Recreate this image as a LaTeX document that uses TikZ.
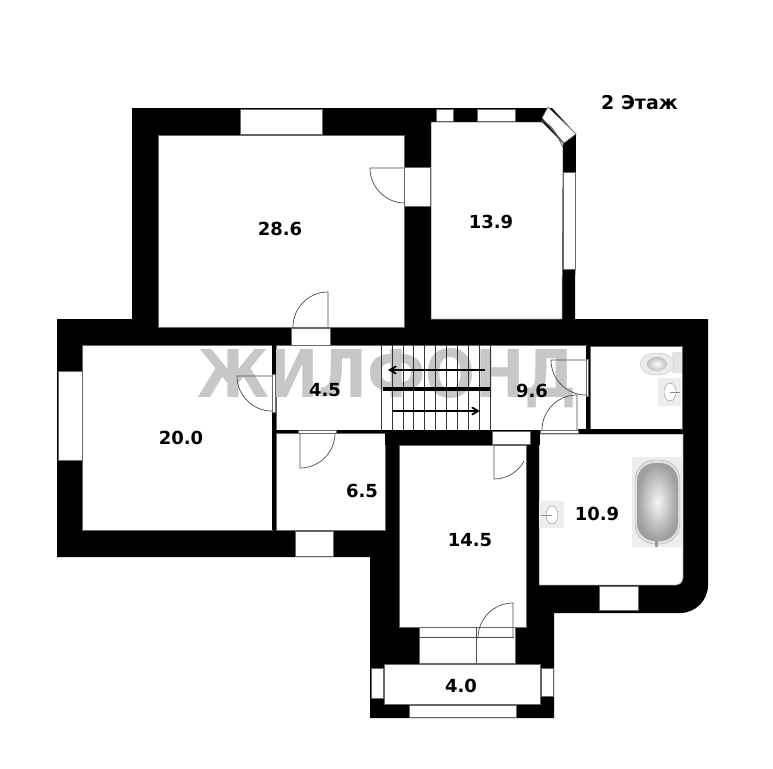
\documentclass[tikz,border=0pt]{standalone}
\usepackage{fontspec}
\setmainfont{DejaVu Sans}
\usetikzlibrary{arrows}
\usetikzlibrary{shapes}

\tikzset{
  room/.style={fill=white, draw=black!60, line width=0.5pt},
  glass/.style={fill=white, draw=black!60, line width=0.6pt},
  door/.style={draw=black!70, line width=0.7pt},
  tread/.style={draw=black!80, line width=0.6pt},
  area/.style={font=\bfseries\fontsize{18}{20}\selectfont, inner sep=0pt},
  sanitary/.style={fill=black!7, draw=none},
}

\begin{document}
\begin{tikzpicture}[x=1pt, y=-1pt, >=angle 60]
  \useasboundingbox (0, 0) rectangle (773, 768);
  \fill[white] (0, 0) rectangle (773, 768);

  % walls
  \fill[black] (132, 108) -- (552, 108) -- (576, 134) -- (575, 319) -- (708, 319)
    -- (708, 585) arc[start angle=0, end angle=90, radius=28] -- (554, 613)
    -- (554, 718) -- (370, 718) -- (370, 557) -- (57, 557) -- (57, 319)
    -- (132, 319) -- cycle;
  \fill[black] (202, 319) rectangle (221, 328);

  % rooms
  \draw[room] (158, 135) rectangle (404, 327);
  \draw[room] (431, 122) -- (542, 122) -- (563, 143) -- (562, 319) -- (431, 319) -- cycle;
  \draw[room] (82, 345) rectangle (272, 530);
  \draw[room] (276, 345) rectangle (586, 430);
  \draw[room] (276, 433) rectangle (385, 530);
  \draw[room] (590, 346) rectangle (682, 429);
  \draw[room] (399, 445) rectangle (526, 627);
  \draw[room] (539, 434) -- (683, 434) -- (683, 578) arc[start angle=0, end angle=90, radius=7]
    -- (539, 585) -- cycle;
  \draw[room] (384, 664) rectangle (540, 704);
  \draw[room] (419, 627) rectangle (515, 663);

  % watermark
  \node[text=black!22, inner sep=0pt, anchor=west] (mark) at (197, 378)
    {\bfseries\fontsize{66}{66}\selectfont\scalebox{0.89}[1]{ЖИЛФОНД}};
  \fill[black] (272, 345) rectangle (276, 530);
  \fill[black] (586, 346) rectangle (590, 430);
  \fill[black] (276, 430) rectangle (385, 433);
  \fill[black] (578, 429) rectangle (682, 434);
  \fill[black] (385, 430) rectangle (540, 445);

  % windows and openings
  \draw[glass] (240, 109) rectangle (322, 134);
  \draw[glass] (436, 109) rectangle (453, 121);
  \draw[glass] (477, 109) rectangle (515, 121);
  \draw[glass] (563, 172) rectangle (575, 269);
  \draw[glass] (548, 107) -- (576, 134) -- (564, 143) -- (542, 118) -- cycle;
  \draw[glass] (404, 167) rectangle (430, 206);
  \draw[glass] (291, 328) rectangle (330, 345);
  \draw[glass] (58, 371) rectangle (82, 460);
  \draw[glass] (295, 531) rectangle (333, 556);
  \draw[glass] (492, 431) rectangle (530, 444);
  \draw[glass] (599, 586) rectangle (638, 610);
  \draw[glass] (371, 668) rectangle (383, 698);
  \draw[glass] (541, 668) rectangle (553, 696);
  \draw[glass] (409, 705) rectangle (516, 717);
  \draw[glass] (272, 374) rectangle (275, 412);
  \draw[glass] (298, 430) rectangle (336, 433);
  \draw[glass] (586, 359) rectangle (588, 396);
  \draw[glass] (540, 430) rectangle (578, 433);

  % doors
  \draw[door] (404, 168) -- (370, 168) arc[start angle=180, end angle=90, radius=35];
  \draw[door] (328, 327) -- (328, 292) arc[start angle=270, end angle=180, radius=35];
  \draw[door] (272, 376) -- (237, 376) arc[start angle=180, end angle=90, radius=35];
  \draw[door] (300, 433) -- (300, 468) arc[start angle=90, end angle=0, radius=35];
  \draw[door] (586, 360) -- (551, 360) arc[start angle=180, end angle=90, radius=35];
  \draw[door] (577, 430) -- (577, 395) arc[start angle=270, end angle=180, radius=35];
  \draw[door] (494, 445) -- (494, 479) arc[start angle=90, end angle=28, radius=34];
  \draw[door] (513, 637) -- (513, 603) arc[start angle=270, end angle=180, radius=35];
  \draw[door] (419, 637) -- (514, 637);
  \draw[door] (476, 627) -- (476, 663);
  \draw[door] (541, 120) .. controls (552, 126) .. (563, 147);

  % stairs
  \foreach \i in {0,1,...,10} {
    \draw[tread] (381+10.9*\i, 345) -- +(0, 85);
  }
  \draw[->, line width=1.8pt] (485, 370) -- (388, 370);
  \draw[line width=3.2pt] (383, 389) -- (490, 389);
  \draw[->, line width=1.8pt] (393, 411) -- (480, 411);

  % toilet and sinks
  \fill[black!10] (672, 352) rectangle (682, 373);
  \draw[black!25, fill=black!8] (657, 364) ellipse (17 and 11);
  \shade[inner color=white, outer color=black!25] (657, 364) ellipse (10 and 7);
  \fill[sanitary] (658, 378) rectangle (681, 406);
  \draw[black!45, fill=white] (670, 392) ellipse (6 and 9);
  \draw[black!45] (670, 392) -- (680, 392);
  \fill[sanitary] (539, 501) rectangle (564, 528);
  \draw[black!45, fill=white] (552, 515) ellipse (6 and 9);
  \draw[black!45] (541, 515) -- (552, 515);

  % bath
  \fill[sanitary] (632, 457) rectangle (683, 547);
  \draw[black!30, fill=black!12, rounded corners=20pt] (635, 460) rectangle (680, 544);
  \shade[inner color=black!4, outer color=black!38, rounded corners=18pt] (637, 463) rectangle (678, 541);
  \fill[black!40] (655, 541) rectangle (658, 547);

  % areas
  \node[area] (a286) at (280, 229) {28.6};
  \node[area] (a139) at (491, 222) {13.9};
  \node[area] (a200) at (181, 438) {20.0};
  \node[area] (a45) at (325, 390) {4.5};
  \node[area] (a96) at (532, 391) {9.6};
  \node[area] (a65) at (362, 491) {6.5};
  \node[area] (a145) at (470, 540) {14.5};
  \node[area] (a109) at (597, 514) {10.9};
  \node[area] (a40) at (461, 686) {4.0};
  \node[area, anchor=west, font=\bfseries\fontsize{19}{20}\selectfont] (floor) at (601, 103) {2 Этаж};
\end{tikzpicture}
\end{document}
